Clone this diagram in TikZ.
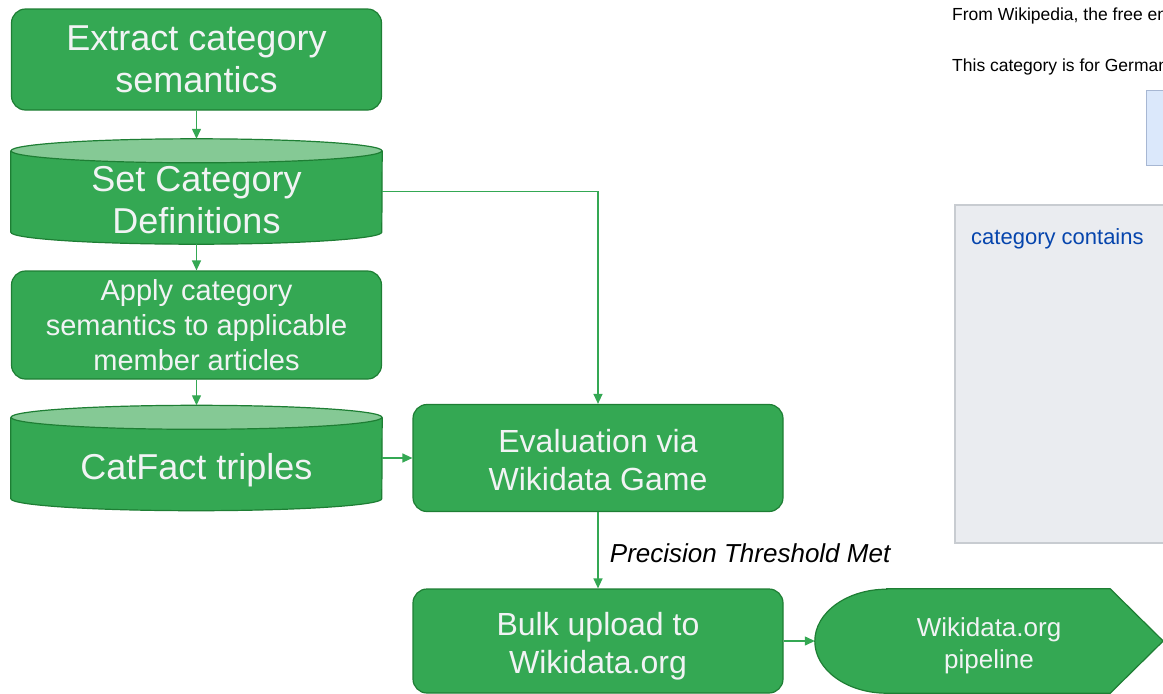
\documentclass[tikz,border=0pt]{standalone}
\usepackage{fontspec}
\setmainfont{Liberation Sans}
\usetikzlibrary{arrows.meta,backgrounds}

\definecolor{boxgreen}{HTML}{34A853}
\definecolor{edgegreen}{HTML}{1E7E34}
\definecolor{topgreen}{HTML}{85C995}
\definecolor{boxtext}{HTML}{F1F3F4}
\definecolor{wikigray}{HTML}{EAECF0}
\definecolor{wikiborder}{HTML}{C8CCD1}
\definecolor{wikiblue}{HTML}{DBE8FB}
\definecolor{wikibluebd}{HTML}{A7B7D3}
\definecolor{wikilink}{HTML}{0645AD}

\tikzset{
  stepbox/.style={draw=edgegreen, fill=boxgreen, line width=1.2pt, rounded corners=14pt,
    minimum width=370pt, minimum height=104pt, align=center, text=boxtext},
  store/.style={minimum width=371pt, minimum height=105pt, inner sep=0pt,
    align=center, text=boxtext},
  shell/.style={draw=edgegreen, fill=boxgreen, line width=1.2pt},
  flow/.style={-{Triangle[length=10pt,width=9pt]}, boxgreen, line width=1.3pt},
  big/.style={font=\fontsize{36}{42}\selectfont},
  mid/.style={font=\fontsize{32}{38}\selectfont},
  wikitext/.style={anchor=west, inner sep=0pt, font=\fontsize{17.5}{21}\selectfont},
}

\begin{document}
\begin{tikzpicture}[x=1pt, y=-1pt]
    \path[use as bounding box, clip] (0,0) rectangle (1163,694);

    % Pipeline steps
    \node[stepbox, big, minimum height=101pt] (extract) at (196.5,59.5) {Extract category\\semantics};
    \node[store, big] (defs) at (196.5,191.5) {\rule{0pt}{42pt}Set Category\\Definitions};
    \node[stepbox, font=\fontsize{29}{35}\selectfont, minimum height=108pt] (apply) at (196.5,325)
        {Apply category\\semantics to applicable\\member articles};
    \node[store, big] (triples) at (196.5,458) {\rule{0pt}{50pt}CatFact triples};
    \node[stepbox, mid, minimum height=107pt] (eval) at (598,458) {\rule{0pt}{27pt}Evaluation via\\Wikidata Game};
    \node[stepbox, mid, minimum height=104pt] (bulk) at (598,641) {\rule{0pt}{34pt}Bulk upload to\\Wikidata.org};
    \node[minimum width=348pt, minimum height=104pt, inner sep=0pt, align=center, text=boxtext,
        font=\fontsize{26}{32}\selectfont] (pipe) at (989,641) {\rule{0pt}{29pt}Wikidata.org\\pipeline};

    % Cylinders and the pipeline shape
    \begin{scope}[on background layer]
        \foreach \db in {defs,triples}{
            \draw[shell] ([yshift=-12pt]\db.north west) -- ([yshift=12pt]\db.south west)
                arc[start angle=180, end angle=360, x radius=185.5pt, y radius=12pt]
                -- ([yshift=-12pt]\db.north east);
            \draw[shell, fill=topgreen] ([yshift=-12pt]\db.north) ellipse[x radius=185.5pt, y radius=12pt];
        }
        \draw[shell] ([xshift=72pt]pipe.north west) -- ([xshift=-53pt]pipe.north east) -- (pipe.east)
            -- ([xshift=-53pt]pipe.south east) -- ([xshift=72pt]pipe.south west)
            arc[start angle=270, end angle=90, x radius=72pt, y radius=52pt] -- cycle;
    \end{scope}

    % Connectors
    \draw[flow] (extract.south) -- (defs.north);
    \draw[flow] (defs.south) -- (apply.north);
    \draw[flow] (apply.south) -- (triples.north);
    \draw[flow] (defs.east) -| (eval.north);
    \draw[flow] (triples.east) -- (eval.west);
    \draw[flow] (eval.south) -- (bulk.north)
        node[midway, right=8pt, yshift=-3pt, text=black, font=\itshape\fontsize{26}{31}\selectfont] (thresh) {Precision Threshold Met};
    \draw[flow] (bulk.east) -- (pipe.west);

    % Wikipedia category page
    \node[wikitext] (wikisrc) at (952,16) {From Wikipedia, the free encyclopedia};
    \node[wikitext] (wikiintro) at (952,67) {This category is for German};
    \draw[fill=wikiblue, draw=wikibluebd, line width=1pt] (1146,90) rectangle (1200,165);
    \draw[fill=wikigray, draw=wikiborder, line width=1.2pt] (955,205) rectangle (1200,543);
    \node[wikitext, text=wikilink, font=\fontsize{22}{26}\selectfont] (contains) at (971,239) {category contains};
\end{tikzpicture}
\end{document}
